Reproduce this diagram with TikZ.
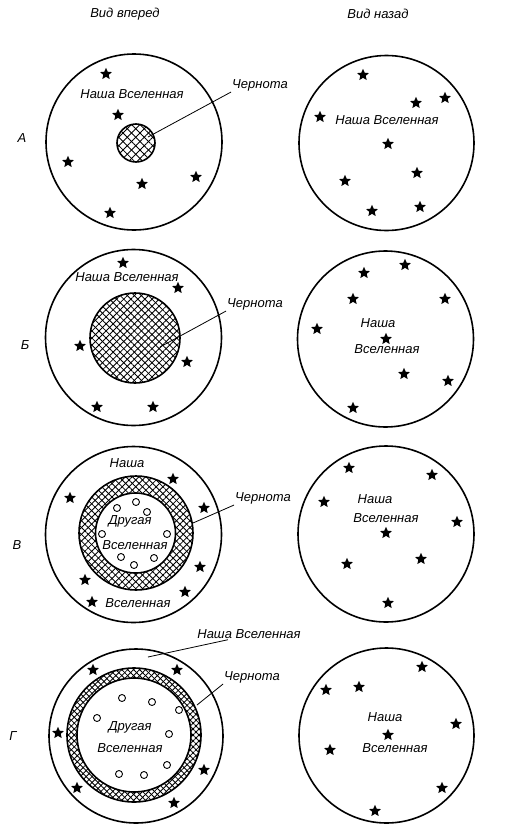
\documentclass[tikz,border=0pt]{standalone}
\usepackage{fontspec}
\setmainfont{Liberation Sans}
\usetikzlibrary{shapes.geometric,patterns.meta,calc}
\tikzset{
  univ/.style={circle,draw,line width=1.6pt,inner sep=0pt,minimum size=#1},
  hatch/.style={pattern={Lines[angle=45,distance=#1,line width=.85pt]},
                postaction={pattern={Lines[angle=-45,distance=#1,line width=.85pt]}}},
  hdisc/.style={circle,draw,line width=1.6pt,inner sep=0pt,minimum size=#1},
  wdisc/.style={circle,draw,fill=white,line width=1.6pt,inner sep=0pt,minimum size=#1},
  starmark/.style={star,star points=5,star point ratio=2.2,fill=black,draw=none,inner sep=0pt,minimum size=12.5pt},
  bubble/.style={circle,draw,line width=.9pt,inner sep=0pt,minimum size=7pt},
  lbl/.style={font=\itshape\fontsize{13}{15}\selectfont,inner sep=1pt,align=center},
  leader/.style={line width=.8pt}
}
\begin{document}
\begin{tikzpicture}[x=1pt,y=-1pt]
\useasboundingbox[fill=white] (0,0) rectangle (515,833);

% headers
\node[lbl] (h1) at (125,14) {Вид вперед};
\node[lbl] (h2) at (378,14) {Вид назад};

% row labels
\node[lbl] (rA) at (22,138) {А};
\node[lbl] (rB) at (25,345) {Б};
\node[lbl] (rV) at (17,545) {В};
\node[lbl] (rG) at (13,736) {Г};

% ---------- Row A ----------
\node[univ=176pt] (A1) at (134,142) {};
\node[hdisc=38pt,hatch=6pt] (A1b) at (136,143) {};
\foreach \p [count=\i] in {(106,74),(118,115),(68,162),(142,184),(196,177),(110,213)}
  \node[starmark] (sA1-\i) at \p {};
\node[lbl] (A1t) at (132,94) {Наша Вселенная};
\node[lbl] (A1c) at (260,85) {Чернота};
\coordinate (A1e) at (148,137);
\draw[leader] (A1c.south west) -- (A1e);

\node[univ=175pt] (A2) at (386.5,143) {};
\foreach \p [count=\i] in {(363,75),(416,103),(445,98),(320,117),(388,144),(345,181),(417,173),(372,211),(420,207)}
  \node[starmark] (sA2-\i) at \p {};
\node[lbl] (A2t) at (387,120) {Наша Вселенная};

% ---------- Row B ----------
\node[univ=176pt] (B1) at (133.5,337.5) {};
\node[hdisc=90pt,hatch=5pt] (B1b) at (135,338) {};
\foreach \p [count=\i] in {(123,263),(178,288),(80,346),(187,362),(97,407),(153,407)}
  \node[starmark] (sB1-\i) at \p {};
\node[lbl] (B1t) at (127,277) {Наша Вселенная};
\node[lbl] (B1c) at (255,304) {Чернота};
\coordinate (B1e) at (160,347);
\draw[leader] (B1c.south west) -- (B1e);

\node[univ=176pt] (B2) at (385.5,339) {};
\foreach \p [count=\i] in {(364,273),(405,265),(353,299),(445,299),(317,329),(386,339),(404,374),(448,381),(353,408)}
  \node[starmark] (sB2-\i) at \p {};
\node[lbl] (B2t) at (378,323) {Наша};
\node[lbl] (B2u) at (387,349) {Вселенная};

% ---------- Row V ----------
\node[univ=176pt] (V1) at (133.5,534.5) {};
\node[hdisc=114pt,hatch=4.8pt] (V1b) at (136,533) {};
\node[wdisc=80pt] (V1w) at (135.5,533) {};
\foreach \p [count=\i] in {(136,502),(117,508),(147,512),(102,534),(167,534),(121,557),(154,558),(134,565)}
  \node[bubble] (oV1-\i) at \p {};
\foreach \p [count=\i] in {(173,479),(70,498),(204,508),(200,567),(85,580),(185,592),(92,602)}
  \node[starmark] (sV1-\i) at \p {};
\node[lbl] (V1o) at (130,521) {Другая};
\node[lbl] (V1p) at (135,545) {Вселенная};
\node[lbl] (V1t) at (127,463) {Наша};
\node[lbl] (V1u) at (138,603) {Вселенная};
\node[lbl] (V1c) at (263,498) {Чернота};
\coordinate (V1e) at (193,523);
\draw[leader] (V1c.south west) -- (V1e);

\node[univ=176pt] (V2) at (386,534) {};
\foreach \p [count=\i] in {(349,468),(432,475),(324,502),(457,522),(386,533),(347,564),(421,559),(388,603)}
  \node[starmark] (sV2-\i) at \p {};
\node[lbl] (V2t) at (375,499) {Наша};
\node[lbl] (V2u) at (386,518) {Вселенная};

% ---------- Row G ----------
\node[univ=174pt] (G1) at (136,736) {};
\node[hdisc=134pt,hatch=4.2pt] (G1b) at (134,735) {};
\node[wdisc=114pt] (G1w) at (134,735) {};
\foreach \p [count=\i] in {(122,698),(152,702),(179,710),(97,718),(169,734),(167,765),(119,774),(144,775)}
  \node[bubble] (oG1-\i) at \p {};
\foreach \p [count=\i] in {(93,670),(177,670),(58,733),(204,770),(77,788),(174,803)}
  \node[starmark] (sG1-\i) at \p {};
\node[lbl] (G1o) at (130,727) {Другая};
\node[lbl] (G1p) at (130,748) {Вселенная};
\node[lbl] (G1t) at (249,634) {Наша Вселенная};
\coordinate (G1e) at (148,657);
\draw[leader] ($(G1t.south west)!0.3!(G1t.south east)$) -- (G1e);
\node[lbl] (G1c) at (252,677) {Чернота};
\coordinate (G1f) at (197,705);
\draw[leader] (G1c.south west) -- (G1f);

\node[univ=175pt] (G2) at (386.5,735.5) {};
\foreach \p [count=\i] in {(422,667),(326,690),(359,687),(456,724),(388,735),(330,750),(442,788),(375,811)}
  \node[starmark] (sG2-\i) at \p {};
\node[lbl] (G2t) at (385,717) {Наша};
\node[lbl] (G2u) at (395,748) {Вселенная};
\end{tikzpicture}
\end{document}
